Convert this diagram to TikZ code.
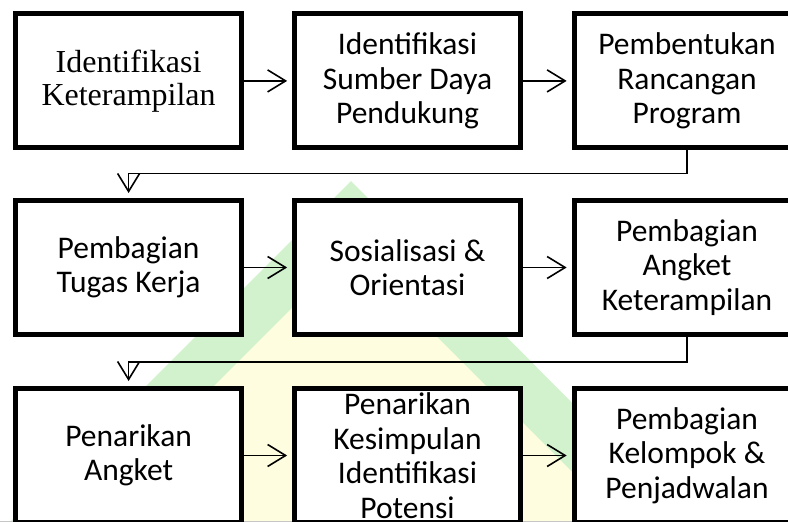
\documentclass[tikz,border=0pt]{standalone}
\usepackage{fontspec}
\setmainfont{Carlito}
\newfontfamily\timesfont{Liberation Serif}
\usetikzlibrary{arrows.meta}
\definecolor{wmgreen}{RGB}{210,242,205}
\definecolor{wmyellow}{RGB}{255,253,224}
\tikzset{
  box/.style={draw=black, line width=5pt, fill=white, minimum width=225.7pt,
    minimum height=134pt, inner sep=0pt, align=center,
    font=\fontsize{31.5}{34.5}\selectfont},
  serifbox/.style={box, font=\timesfont\fontsize{32}{33}\selectfont},
  conn/.style={line width=1.6pt, shorten >=5pt,
    -{Straight Barb[length=18pt,width=22pt]}},
}
\begin{document}
\begin{tikzpicture}[x=1pt,y=-1pt]
\useasboundingbox (0,0) rectangle (788,522);
\clip (0,0) rectangle (788,522);
% faint watermark
\fill[wmgreen] (351,181) -- (-20,552) -- (721,552) -- cycle;
\fill[wmyellow] (350,250) -- (70,530) -- (630,530) -- cycle;
\draw[gray!45, line width=1pt] (0,521.5) -- (788,521.5);
% row 1
\node[serifbox] (b1) at (128.6,80.9) {Identifikasi\\Keterampilan};
\node[box] (b2) at (407.5,80.9) {Identifikasi\\Sumber Daya\\Pendukung};
\node[box] (b3) at (687,80.9) {Pembentukan\\Rancangan\\Program};
% row 2
\node[box] (b4) at (128.6,267.5) {Pembagian\\Tugas Kerja};
\node[box] (b5) at (407.5,267.5) {Sosialisasi \&\\Orientasi};
\node[box] (b6) at (687,267.5) {Pembagian\\Angket\\Keterampilan};
% row 3
\node[box] (b7) at (128.6,455.5) {Penarikan\\Angket};
\node[box] (b8) at (407.5,455.5) {Penarikan\\Kesimpulan\\Identifikasi\\Potensi};
\node[box] (b9) at (687,455.5) {Pembagian\\Kelompok \&\\Penjadwalan};
% connectors
\draw[conn] (b1.east) -- (b2.west);
\draw[conn] (b2.east) -- (b3.west);
\draw[conn] (b4.east) -- (b5.west);
\draw[conn] (b5.east) -- (b6.west);
\draw[conn] (b7.east) -- (b8.west);
\draw[conn] (b8.east) -- (b9.west);
\coordinate (k1) at (687,173.3);
\coordinate (k2) at (687,362);
\draw[conn] (b3.south) -- (k1) -| (b4.north);
\draw[conn] (b6.south) -- (k2) -| (b7.north);
\end{tikzpicture}
\end{document}
